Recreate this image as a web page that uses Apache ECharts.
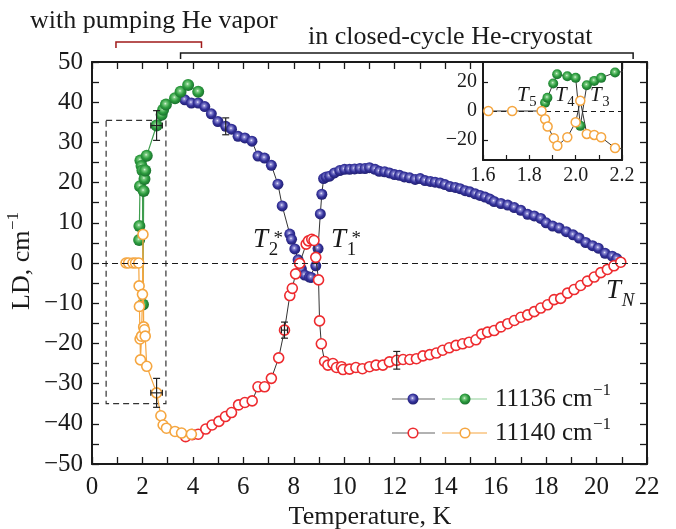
<!DOCTYPE html>
<html>
<head>
<meta charset="utf-8">
<script src="https://cdn.jsdelivr.net/npm/echarts@6/dist/echarts.min.js"></script>
<style>
html, body { margin: 0; padding: 0; background: #fff; }
#chart { width: 676px; height: 529px; }
</style>
</head>
<body>
<div id="chart"></div>
<script>
// LD vs temperature, two wavelengths, two cryostats
const closed11136 = [
  [3.68,40.6],[3.94,39.8],[4.21,39.8],[4.47,38.9],[4.73,37.1],[4.99,35.2],[5.30,34.0],[5.53,33.3],
  [5.79,31.5],[6.06,31.1],[6.34,30.3],[6.58,26.6],[6.84,26.1],[7.11,24.3],[7.37,19.6],[7.54,14.2],
  [7.84,7.2],[7.91,5.9],[8.04,3.5],[8.17,0.8],[8.30,-1.5],[8.43,-3.0],[8.62,-3.5],[8.69,-3.6],
  [8.87,-0.7],[8.96,3.6],[9.05,12.2],[9.11,17.1],[9.18,21.0],[9.28,21.4],[9.42,21.6],[9.61,22.4],
  [9.82,23.0],[10.01,23.3],[10.21,23.3],[10.41,23.4],[10.62,23.5],[10.82,23.5],[11.00,23.7],[11.22,23.3],
  [11.39,22.8],[11.60,22.7],[11.79,22.4],[11.99,22.0],[12.19,21.8],[12.38,21.4],[12.59,21.2],[12.81,20.8],
  [13.01,21.0],[13.20,20.5],[13.41,20.3],[13.60,20.1],[13.80,19.9],[13.99,19.5],[14.19,19.0],[14.40,18.8],
  [14.59,18.5],[14.79,18.0],[14.98,17.7],[15.19,17.2],[15.38,16.8],[15.58,16.4],[15.77,15.9],[15.94,15.3],
  [16.21,14.8],[16.48,14.4],[16.74,13.8],[17.00,13.1],[17.27,12.1],[17.53,11.7],[17.79,11.1],[18.00,10.0],
  [18.26,9.2],[18.52,8.7],[18.80,7.8],[19.07,7.0],[19.31,6.2],[19.57,5.1],[19.84,4.3],[20.07,3.7],
  [20.34,2.4],[20.62,1.7],[20.80,1.1]
];
const pumped11136 = [
  [1.868,5.7],[1.878,9.2],[1.903,19.1],[1.92,25.5],[1.964,24.1],[2.0,23.0],[2.02,-10.3],[2.048,17.9],
  [2.08,20.9],[2.11,23.0],[2.17,26.7],[2.56,34.2],[2.76,36.9],[2.82,38.1],[2.93,39.4],[3.29,41.0],
  [3.51,42.6],[3.81,44.3],[4.21,42.6]
];
const closed11140 = [
  [3.71,-43.2],[3.97,-42.7],[4.21,-42.6],[4.51,-41.3],[4.76,-40.3],[5.03,-39.4],[5.29,-38.2],[5.53,-37.2],
  [5.81,-35.3],[6.06,-34.7],[6.35,-34.3],[6.58,-30.8],[6.84,-30.8],[7.11,-28.7],[7.40,-23.6],[7.63,-16.7],
  [7.84,-8.1],[7.94,-6.3],[8.07,-2.7],[8.23,-0.1],[8.49,4.7],[8.58,5.5],[8.71,5.9],[8.80,5.6],
  [8.87,1.4],[8.98,-4.2],[9.02,-14.4],[9.09,-20.1],[9.22,-24.5],[9.35,-25.4],[9.55,-25.0],[9.69,-26.0],
  [9.89,-25.8],[9.95,-26.5],[10.21,-26.4],[10.46,-26.0],[10.72,-26.3],[11.00,-25.8],[11.26,-25.4],[11.53,-25.4],
  [11.79,-24.6],[12.08,-24.2],[12.33,-24.0],[12.60,-24.0],[12.86,-23.8],[13.12,-23.1],[13.39,-22.8],[13.65,-22.4],
  [13.90,-21.7],[14.16,-21.1],[14.43,-20.5],[14.69,-20.1],[14.95,-19.7],[15.22,-19.1],[15.45,-17.7],[15.68,-17.2],
  [15.94,-16.8],[16.21,-15.9],[16.48,-15.1],[16.74,-14.3],[17.00,-13.5],[17.27,-12.9],[17.53,-12.1],[17.79,-11.2],
  [18.06,-10.4],[18.32,-9.1],[18.58,-8.8],[18.85,-7.5],[19.11,-6.6],[19.37,-5.6],[19.64,-4.5],[19.91,-3.5],
  [20.17,-2.4],[20.43,-1.6],[20.69,-0.7],[20.96,0.2]
];
const pumped11140 = [
  [1.35,0],[1.45,0],[1.623,0],[1.726,0],[1.853,0],[1.868,-5.7],[1.879,-10.8],[1.906,-18.9],
  [1.921,-24.1],[1.964,-18.2],[2.0,-7.8],[2.02,7.1],[2.048,-15.9],[2.08,-16.6],[2.11,-18.2],[2.17,-25.7],
  [2.56,-32.3],[2.73,-38.0],[2.82,-40.3],[2.95,-41.1],[3.29,-41.9],[3.55,-42.3],[3.94,-42.6]
];
// [T, LD, dT, dLD]
const errorBars = [[2.56,34.2,0.23,3.7],[5.30,34.0,0,2.1],[7.63,-16.7,0.12,2.0],[12.08,-24.2,0,2.2],[2.56,-32.3,0.23,3.6]];
const pumpBox = [[0.56,35.5],[2.93,-35]];
const pumpRange = [0.95, 4.34];
const closedRange = [3.51, 21.45];
const insetTicks = [-20, 0, 20];

const FONT = '"Liberation Serif", "Times New Roman", serif';
const INK = '#1a1a1a';

function ball(c0, c1, c2, c3) {
  return new echarts.graphic.RadialGradient(0.45, 0.42, 0.62, [
    {offset: 0, color: c0}, {offset: 0.18, color: c1}, {offset: 0.55, color: c2}, {offset: 1, color: c3}
  ]);
}
const navyBall = ball('#f2f2ff', '#8c8ad2', '#35339c', '#1c1a68');
const greenBall = ball('#e6f8e6', '#7ccc82', '#2c9c3e', '#16672a');
const RED = '#ee2b2f', ORANGE = '#f5a640', GREEN_LINE = '#3f9d4e';

const minus = v => String(v).replace('-', '\u2212');

function mainAxis(pos, withLabels) {
  const isX = pos === 'bottom' || pos === 'top';
  return {
    type: 'value', gridIndex: 0, position: pos,
    min: isX ? 0 : -50, max: isX ? 22 : 50, interval: isX ? 2 : 10,
    axisLine: {show: true, onZero: false, lineStyle: {color: INK, width: 2}},
    axisTick: {show: true, inside: true, length: 7, lineStyle: {color: INK, width: 1.3}},
    minorTick: {show: true, splitNumber: 2, length: 7, lineStyle: {color: INK, width: 1.3}},
    axisLabel: {show: withLabels, fontFamily: FONT, fontSize: 25, color: INK, margin: isX ? 11 : 9, formatter: minus},
    splitLine: {show: false}
  };
}

const option = {
  animation: false,
  backgroundColor: '#fff',
  grid: [
    {left: 92, top: 62, width: 555, height: 402},
    {left: 483, top: 62, width: 139, height: 98, show: true, backgroundColor: '#fff', borderWidth: 0, z: 5}
  ],
  xAxis: [
    mainAxis('bottom', true),
    mainAxis('top', false),
    {
      type: 'value', gridIndex: 1, position: 'bottom', min: 1.6, max: 2.2, interval: 0.2, z: 6,
      axisLine: {show: true, onZero: false, lineStyle: {color: INK, width: 2}},
      axisTick: {show: true, inside: true, length: 5, lineStyle: {color: INK, width: 1.2}},
      minorTick: {show: true, splitNumber: 2, length: 5, lineStyle: {color: INK, width: 1.2}},
      axisLabel: {fontFamily: FONT, fontSize: 20, color: INK, margin: 6, formatter: v => v.toFixed(1)},
      splitLine: {show: false}
    },
    {
      type: 'value', gridIndex: 1, position: 'top', min: 1.6, max: 2.2, interval: 0.2, z: 6,
      axisLine: {show: true, onZero: false, lineStyle: {color: INK, width: 2}},
      axisTick: {show: false}, axisLabel: {show: false}, splitLine: {show: false}
    }
  ],
  yAxis: [
    mainAxis('left', true),
    mainAxis('right', false),
    {
      type: 'value', gridIndex: 1, position: 'left', min: -34, max: 34, z: 6,
      axisLine: {show: true, onZero: false, lineStyle: {color: INK, width: 2}},
      axisTick: {show: true, inside: true, length: 5, customValues: insetTicks, lineStyle: {color: INK, width: 1.2}},
      axisLabel: {fontFamily: FONT, fontSize: 20, color: INK, margin: 6, customValues: insetTicks, formatter: minus},
      splitLine: {show: false}
    },
    {
      type: 'value', gridIndex: 1, position: 'right', min: -34, max: 34, z: 6,
      axisLine: {show: true, onZero: false, lineStyle: {color: INK, width: 2}},
      axisTick: {show: false}, axisLabel: {show: false}, splitLine: {show: false}
    }
  ],
  series: [
    {
      name: 'closed 11136', type: 'line', xAxisIndex: 0, yAxisIndex: 0, data: closed11136,
      symbol: 'circle', symbolSize: 11, itemStyle: {color: navyBall},
      lineStyle: {color: '#333', width: 1}, emphasis: {disabled: true}, z: 3,
      markLine: {
        silent: true, symbol: 'none', label: {show: false},
        lineStyle: {color: INK, type: [6, 4], width: 1.2}, data: [{yAxis: 0}]
      }
    },
    {
      name: 'pumped 11136', type: 'line', xAxisIndex: 0, yAxisIndex: 0, data: pumped11136,
      symbol: 'circle', symbolSize: 12, itemStyle: {color: greenBall},
      lineStyle: {color: GREEN_LINE, width: 1.2}, emphasis: {disabled: true}, z: 3,
      markArea: {
        silent: true,
        itemStyle: {color: 'rgba(0,0,0,0)', borderColor: '#333', borderWidth: 1.2, borderType: [6, 4]},
        data: [[{coord: pumpBox[0]}, {coord: pumpBox[1]}]]
      }
    },
    {
      name: 'closed 11140', type: 'line', xAxisIndex: 0, yAxisIndex: 0, data: closed11140,
      symbol: 'circle', symbolSize: 10, itemStyle: {color: '#fff', borderColor: RED, borderWidth: 1.6},
      lineStyle: {color: '#333', width: 1}, emphasis: {disabled: true}, z: 4
    },
    {
      name: 'pumped 11140', type: 'line', xAxisIndex: 0, yAxisIndex: 0, data: pumped11140,
      symbol: 'circle', symbolSize: 10, itemStyle: {color: '#fff', borderColor: ORANGE, borderWidth: 1.6},
      lineStyle: {color: ORANGE, width: 1.2}, emphasis: {disabled: true}, z: 4
    },
    {
      name: 'errors', type: 'custom', xAxisIndex: 0, yAxisIndex: 0, data: errorBars, z: 6,
      renderItem: function (params, api) {
        const x = api.value(0), y = api.value(1), dx = api.value(2), dy = api.value(3);
        const st = {stroke: '#222', lineWidth: 1.2, fill: null};
        const c = api.coord([x, y]);
        const t = api.coord([x, y + dy]), b = api.coord([x, y - dy]);
        const parts = [
          {type: 'line', shape: {x1: c[0], y1: t[1], x2: c[0], y2: b[1]}, style: st},
          {type: 'line', shape: {x1: c[0] - 3.5, y1: t[1], x2: c[0] + 3.5, y2: t[1]}, style: st},
          {type: 'line', shape: {x1: c[0] - 3.5, y1: b[1], x2: c[0] + 3.5, y2: b[1]}, style: st}
        ];
        if (dx > 0) {
          const l = api.coord([x - dx, y]), r = api.coord([x + dx, y]);
          parts.push({type: 'line', shape: {x1: l[0], y1: c[1], x2: r[0], y2: c[1]}, style: st});
          parts.push({type: 'line', shape: {x1: l[0], y1: c[1] - 3, x2: l[0], y2: c[1] + 3}, style: st});
          parts.push({type: 'line', shape: {x1: r[0], y1: c[1] - 3, x2: r[0], y2: c[1] + 3}, style: st});
        }
        return {type: 'group', children: parts};
      }
    },
    // inset
    {
      name: 'inset 11136', type: 'line', xAxisIndex: 2, yAxisIndex: 2, data: pumped11136, clip: true,
      symbol: 'circle', symbolSize: 10, itemStyle: {color: greenBall},
      lineStyle: {color: '#333', width: 1}, emphasis: {disabled: true}, z: 7
    },
    {
      name: 'inset 11140', type: 'line', xAxisIndex: 2, yAxisIndex: 2, data: pumped11140, clip: true,
      symbol: 'circle', symbolSize: 9, itemStyle: {color: '#fff', borderColor: ORANGE, borderWidth: 1.5},
      lineStyle: {color: '#333', width: 1}, emphasis: {disabled: true}, z: 7,
      markLine: {
        silent: true, symbol: 'none', label: {show: false},
        lineStyle: {color: INK, type: [5, 4], width: 1.1}, data: [{yAxis: 0}]
      }
    }
  ]
};

const chart = echarts.init(document.getElementById('chart'), null, {renderer: 'canvas'});
chart.setOption(option);

const xPix = v => chart.convertToPixel({xAxisIndex: 0}, v);

function txt(x, y, s, size, opts) {
  return {
    type: 'text', x: x, y: y, z: 20,
    style: Object.assign({text: s, fontFamily: FONT, fontSize: size, fill: INK, align: 'left', verticalAlign: 'middle'}, opts || {})
  };
}
function bracket(r, y, color) {
  const a = xPix(r[0]), b = xPix(r[1]);
  return {
    type: 'polyline', z: 20,
    shape: {points: [[a, y + 6], [a, y], [b, y], [b, y + 6]]},
    style: {stroke: color, lineWidth: 1.5, fill: null}
  };
}
function label(x, y, main, sub, sup, size) {
  const out = [txt(x, y, main, size, {fontStyle: 'italic'})];
  const sx = x + size * 0.58;
  out.push(txt(sx, y + size * 0.36, sub, size * 0.7, sub === 'N' ? {fontStyle: 'italic'} : {}));
  if (sup) out.push(txt(sx + size * 0.18, y - size * 0.05, sup, size * 0.7));
  return out;
}
function legendRow(y, c1, c2, line1, line2, filled, text) {
  const mk = (cx, col) => filled
    ? {type: 'circle', z: 20, shape: {cx: cx, cy: y, r: 5.5}, style: {fill: col}}
    : {type: 'circle', z: 20, shape: {cx: cx, cy: y, r: 4.8}, style: {fill: '#fff', stroke: col, lineWidth: 1.6}};
  return [
    {type: 'line', z: 19, shape: {x1: 392, y1: y, x2: 435, y2: y}, style: {stroke: line1, lineWidth: 1.2}},
    mk(413, c1),
    {type: 'line', z: 19, shape: {x1: 442, y1: y, x2: 487, y2: y}, style: {stroke: line2, lineWidth: 1.2}},
    mk(465, c2),
    txt(495, y, text, 25),
    txt(593, y - 8, '\u22121', 17)
  ];
}

const g = [];
g.push(txt(30, 21, 'with pumping He vapor', 26));
g.push(txt(308, 37, 'in closed-cycle He-cryostat', 26));
g.push(bracket(pumpRange, 42, '#a01a1a'));
g.push(bracket(closedRange, 53, INK));
g.push(...label(253, 240, 'T', '2', '*', 27));
g.push(...label(331, 240, 'T', '1', '*', 27));
g.push(...label(606, 291, 'T', 'N', null, 27));
g.push(...label(517, 95, 'T', '5', null, 21));
g.push(...label(555, 95, 'T', '4', null, 21));
g.push(...label(590, 95, 'T', '3', null, 21));
g.push(...legendRow(399, navyBall, greenBall, '#666', '#8fcf97', true, '11136 cm'));
g.push(...legendRow(433, RED, ORANGE, '#666', ORANGE, false, '11140 cm'));
g.push(txt(370, 517, 'Temperature, K', 26, {align: 'center'}));
g.push({
  type: 'group', x: 22, y: 262, rotation: Math.PI / 2, z: 20,
  children: [txt(-48, 0, 'LD, cm', 26), txt(32, -8, '\u22121', 17)]
});
chart.setOption({graphic: g});
</script>
</body>
</html>
